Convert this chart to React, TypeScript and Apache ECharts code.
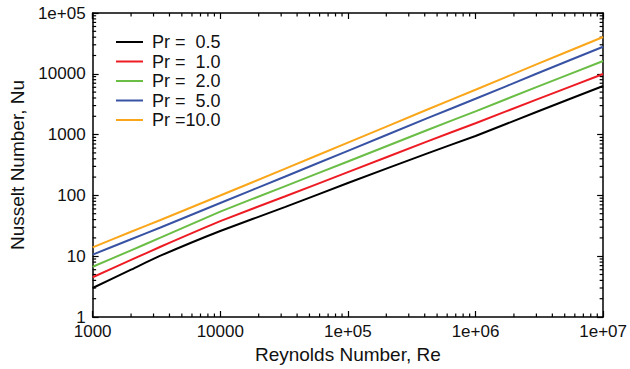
import React, { useEffect, useRef } from "react";
import * as echarts from "echarts";

const reynolds = [1000, 2000, 3400, 10000, 32000, 100000, 420000, 1000000, 3000000, 10000000];
const nuPr05 = [3.0, 6.0, 10.2, 26.0, 64, 160, 492, 949, 2353, 6300];
const nuPr10 = [4.5, 8.7, 14.3, 37.7, 96, 241, 773, 1540, 3765, 9930];
const nuPr20 = [6.7, 12.5, 20.2, 54, 141, 361, 1190, 2416, 6025, 16250];
const nuPr50 = [10.6, 19.0, 29.6, 75, 203, 540, 1862, 3880, 10000, 27900];
const nuPr100 = [14.0, 25.2, 39.4, 99.6, 273, 738, 2588, 5457, 14280, 40300];

const seriesNames = ["Pr =  0.5", "Pr =  1.0", "Pr =  2.0", "Pr =  5.0", "Pr =10.0"];
const seriesColors = ["#000000", "#ed1c24", "#6abd45", "#3953a4", "#faa61a"];
const seriesValues = [nuPr05, nuPr10, nuPr20, nuPr50, nuPr100];

const xTickLabels = ["1000", "10000", "1e+05", "1e+06", "1e+07"];
const yTickLabels = ["1", "10", "100", "1000", "10000", "1e+05"];

const X_MIN = 1000;
const X_MAX = 10000000;
const Y_MIN = 1;
const Y_MAX = 100000;

const minorMultipliers = [2, 3, 4, 5, 6, 7, 8, 9];
const xDecades = [1000, 10000, 100000, 1000000];
const yDecades = [1, 10, 100, 1000, 10000];

const FONT = "Liberation Sans, Arial, Helvetica, sans-serif";
const AXIS_COLOR = "#000";

export default function App() {
  const ref = useRef<HTMLDivElement>(null);
  useEffect(() => {
    if (!ref.current) return;
    const chart = echarts.init(ref.current, undefined, { renderer: "svg" });
    const grid = { left: 91, right: 23, top: 13, bottom: 52 };

    const xMinor: number[] = [];
    xDecades.forEach((d) => minorMultipliers.forEach((m) => xMinor.push(m * d)));
    const yMinor: number[] = [];
    yDecades.forEach((d) => minorMultipliers.forEach((m) => yMinor.push(m * d)));

    const tickStyle = { stroke: AXIS_COLOR, lineWidth: 1.2, fill: null };
    const MINOR_LEN = 3.5;

    const baseX = (extra: any) => ({
      type: "log",
      logBase: 10,
      min: X_MIN,
      max: X_MAX,
      splitLine: { show: false },
      ...extra,
    });
    const baseY = (extra: any) => ({
      type: "log",
      logBase: 10,
      min: Y_MIN,
      max: Y_MAX,
      splitLine: { show: false },
      ...extra,
    });
    const xLabelFmt = (v: number) => xTickLabels[Math.round(Math.log10(v)) - 3] ?? "";
    const yLabelFmt = (v: number) => yTickLabels[Math.round(Math.log10(v))] ?? "";

    const lineSeries = seriesNames.map((name, i) => ({
      name,
      type: "line",
      xAxisIndex: 0,
      yAxisIndex: 0,
      showSymbol: false,
      smooth: 0.15,
      lineStyle: { color: seriesColors[i], width: 2 },
      itemStyle: { color: seriesColors[i] },
      data: reynolds.map((re, j) => [re, seriesValues[i][j]]),
    }));

    const xMinorSeries = {
      type: "custom",
      name: "xMinorTicks",
      silent: true,
      xAxisIndex: 0,
      yAxisIndex: 0,
      clip: false,
      data: xMinor.map((v) => [v, Y_MIN]),
      renderItem: (params: any, api: any) => {
        const v = api.value(0);
        const b = api.coord([v, Y_MIN]);
        const t = api.coord([v, Y_MAX]);
        return {
          type: "group",
          children: [
            { type: "line", shape: { x1: b[0], y1: b[1], x2: b[0], y2: b[1] - MINOR_LEN }, style: tickStyle },
            { type: "line", shape: { x1: t[0], y1: t[1], x2: t[0], y2: t[1] + MINOR_LEN }, style: tickStyle },
          ],
        };
      },
    };
    const yMinorSeries = {
      type: "custom",
      name: "yMinorTicks",
      silent: true,
      xAxisIndex: 0,
      yAxisIndex: 0,
      clip: false,
      data: yMinor.map((v) => [X_MIN, v]),
      renderItem: (params: any, api: any) => {
        const v = api.value(1);
        const l = api.coord([X_MIN, v]);
        const r = api.coord([X_MAX, v]);
        return {
          type: "group",
          children: [
            { type: "line", shape: { x1: l[0], y1: l[1], x2: l[0] + MINOR_LEN, y2: l[1] }, style: tickStyle },
            { type: "line", shape: { x1: r[0], y1: r[1], x2: r[0] - MINOR_LEN, y2: r[1] }, style: tickStyle },
          ],
        };
      },
    };

    const majorTick = { show: true, inside: true, length: 6, lineStyle: { color: AXIS_COLOR, width: 1.2 } };

    const option: any = {
      animation: false,
      grid,
      legend: {
        left: 111,
        top: 28,
        orient: "vertical",
        icon: "rect",
        itemWidth: 27,
        itemHeight: 2,
        itemGap: 1.5,
        textStyle: { fontFamily: FONT, fontSize: 18, color: "#111", lineHeight: 18, padding: [0, 0, 0, 4] },
        data: seriesNames.map((n, i) => ({ name: n, itemStyle: { color: seriesColors[i] } })),
      },
      xAxis: [
        baseX({
          position: "bottom",
          name: "Reynolds Number, Re",
          nameLocation: "middle",
          nameGap: 19,
          nameTextStyle: { fontFamily: FONT, fontSize: 19, color: "#111" },
          axisLine: { show: true, onZero: false, lineStyle: { color: AXIS_COLOR, width: 1.5 } },
          axisTick: majorTick,
          axisLabel: { show: true, margin: 6, fontFamily: FONT, fontSize: 17, color: "#111", formatter: xLabelFmt },
        }),
        baseX({
          position: "top",
          axisLine: { show: true, onZero: false, lineStyle: { color: AXIS_COLOR, width: 1.5 } },
          axisTick: majorTick,
          axisLabel: { show: false },
        }),
      ],
      yAxis: [
        baseY({
          position: "left",
          name: "Nusselt Number, Nu",
          nameLocation: "middle",
          nameGap: 60,
          nameTextStyle: { fontFamily: FONT, fontSize: 19, color: "#111" },
          axisLine: { show: true, onZero: false, lineStyle: { color: AXIS_COLOR, width: 1.5 } },
          axisTick: majorTick,
          axisLabel: { show: true, margin: 7, fontFamily: FONT, fontSize: 17, color: "#111", formatter: yLabelFmt },
        }),
        baseY({
          position: "right",
          axisLine: { show: true, onZero: false, lineStyle: { color: AXIS_COLOR, width: 1.5 } },
          axisTick: majorTick,
          axisLabel: { show: false },
        }),
      ],
      series: [...lineSeries, xMinorSeries, yMinorSeries],
    };
    chart.setOption(option);
    return () => chart.dispose();
  }, []);
  return (
    <div
      ref={ref}
      style={{ position: "fixed", left: 0, top: 0, width: 630, height: 369, background: "#fff" }}
    />
  );
}
